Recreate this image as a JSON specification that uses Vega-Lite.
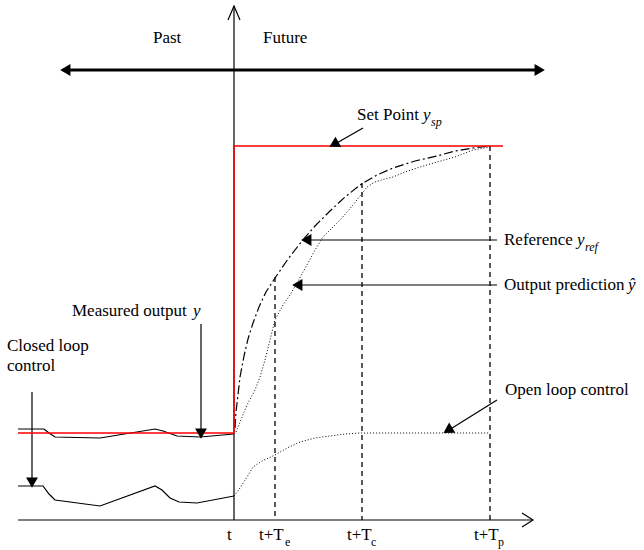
{
  "$schema": "https://vega.github.io/schema/vega-lite/v6.json",
  "width": 644,
  "height": 550,
  "autosize": "none",
  "padding": 0,
  "background": "white",
  "config": {"view": {"stroke": null}},
  "datasets": {
    "lines": [
      {"s":"vaxis","i":0,"x":234,"y":6},{"s":"vaxis","i":1,"x":234,"y":520},
      {"s":"vhead","i":0,"x":228,"y":20},{"s":"vhead","i":1,"x":234,"y":6},{"s":"vhead","i":2,"x":240,"y":20},
      {"s":"xaxis","i":0,"x":18,"y":520},{"s":"xaxis","i":1,"x":533,"y":520},
      {"s":"xhead","i":0,"x":522,"y":513},{"s":"xhead","i":1,"x":533,"y":520},{"s":"xhead","i":2,"x":522,"y":527},
      {"s":"measured","i":0,"x":18,"y":429},{"s":"measured","i":1,"x":44,"y":429},{"s":"measured","i":2,"x":49,"y":433},{"s":"measured","i":3,"x":55,"y":437},{"s":"measured","i":4,"x":100,"y":438},{"s":"measured","i":5,"x":155,"y":429},{"s":"measured","i":6,"x":163,"y":431},{"s":"measured","i":7,"x":177,"y":436},{"s":"measured","i":8,"x":200,"y":437},{"s":"measured","i":9,"x":234,"y":434},
      {"s":"control","i":0,"x":18,"y":486},{"s":"control","i":1,"x":43,"y":486},{"s":"control","i":2,"x":49,"y":494},{"s":"control","i":3,"x":55,"y":500},{"s":"control","i":4,"x":100,"y":506},{"s":"control","i":5,"x":155,"y":486},{"s":"control","i":6,"x":162,"y":490},{"s":"control","i":7,"x":170,"y":498},{"s":"control","i":8,"x":179,"y":502},{"s":"control","i":9,"x":197,"y":503},{"s":"control","i":10,"x":234,"y":496},
      {"s":"a_closed","i":0,"x":32,"y":392},{"s":"a_closed","i":1,"x":32,"y":480},
      {"s":"a_meas","i":0,"x":201,"y":324},{"s":"a_meas","i":1,"x":201,"y":431},
      {"s":"a_sp","i":0,"x":363,"y":128},{"s":"a_sp","i":1,"x":335,"y":144},
      {"s":"a_ref","i":0,"x":497,"y":240},{"s":"a_ref","i":1,"x":308,"y":240},
      {"s":"a_out","i":0,"x":497,"y":285},{"s":"a_out","i":1,"x":299,"y":285},
      {"s":"a_open","i":0,"x":497,"y":400},{"s":"a_open","i":1,"x":449,"y":430},
      {"s":"timeline","i":0,"x":68,"y":70},{"s":"timeline","i":1,"x":537,"y":70},
      {"s":"setpoint","i":0,"x":18,"y":433},{"s":"setpoint","i":1,"x":234,"y":433},{"s":"setpoint","i":2,"x":234,"y":146},{"s":"setpoint","i":3,"x":503,"y":146},
      {"s":"te","i":0,"x":275,"y":277},{"s":"te","i":1,"x":275,"y":520},
      {"s":"tc","i":0,"x":362,"y":183},{"s":"tc","i":1,"x":362,"y":520},
      {"s":"tp","i":0,"x":490,"y":146},{"s":"tp","i":1,"x":490,"y":520},
      {"s":"ref","i":0,"x":235,"y":428},{"s":"ref","i":1,"x":236,"y":412},{"s":"ref","i":2,"x":238,"y":395},{"s":"ref","i":3,"x":240,"y":377},{"s":"ref","i":4,"x":244,"y":356},{"s":"ref","i":5,"x":248,"y":339},{"s":"ref","i":6,"x":253,"y":323},{"s":"ref","i":7,"x":259,"y":307},{"s":"ref","i":8,"x":266,"y":292},{"s":"ref","i":9,"x":275,"y":278},{"s":"ref","i":10,"x":288,"y":259},{"s":"ref","i":11,"x":302,"y":241},{"s":"ref","i":12,"x":315,"y":226},{"s":"ref","i":13,"x":330,"y":211},{"s":"ref","i":14,"x":345,"y":197},{"s":"ref","i":15,"x":360,"y":185},{"s":"ref","i":16,"x":377,"y":175},{"s":"ref","i":17,"x":393,"y":168},{"s":"ref","i":18,"x":415,"y":161},{"s":"ref","i":19,"x":437,"y":156},{"s":"ref","i":20,"x":455,"y":151},{"s":"ref","i":21,"x":473,"y":148},{"s":"ref","i":22,"x":490,"y":146},
      {"s":"pred","i":0,"x":236,"y":432},{"s":"pred","i":1,"x":240,"y":422},{"s":"pred","i":2,"x":247,"y":405},{"s":"pred","i":3,"x":255,"y":390},{"s":"pred","i":4,"x":260,"y":377},{"s":"pred","i":5,"x":265,"y":360},{"s":"pred","i":6,"x":270,"y":340},{"s":"pred","i":7,"x":275,"y":320},{"s":"pred","i":8,"x":283,"y":305},{"s":"pred","i":9,"x":290,"y":295},{"s":"pred","i":10,"x":297,"y":283},{"s":"pred","i":11,"x":303,"y":272},{"s":"pred","i":12,"x":308,"y":263},{"s":"pred","i":13,"x":315,"y":250},{"s":"pred","i":14,"x":323,"y":237},{"s":"pred","i":15,"x":332,"y":228},{"s":"pred","i":16,"x":340,"y":220},{"s":"pred","i":17,"x":347,"y":212},{"s":"pred","i":18,"x":353,"y":205},{"s":"pred","i":19,"x":360,"y":196},{"s":"pred","i":20,"x":367,"y":187},{"s":"pred","i":21,"x":375,"y":182},{"s":"pred","i":22,"x":385,"y":179},{"s":"pred","i":23,"x":393,"y":177},{"s":"pred","i":24,"x":405,"y":172},{"s":"pred","i":25,"x":420,"y":167},{"s":"pred","i":26,"x":437,"y":162},{"s":"pred","i":27,"x":455,"y":157},{"s":"pred","i":28,"x":473,"y":150},{"s":"pred","i":29,"x":490,"y":147},
      {"s":"open","i":0,"x":234,"y":496},{"s":"open","i":1,"x":240,"y":488},{"s":"open","i":2,"x":247,"y":477},{"s":"open","i":3,"x":253,"y":467},{"s":"open","i":4,"x":262,"y":461},{"s":"open","i":5,"x":275,"y":455},{"s":"open","i":6,"x":287,"y":448},{"s":"open","i":7,"x":300,"y":442},{"s":"open","i":8,"x":315,"y":438},{"s":"open","i":9,"x":330,"y":436},{"s":"open","i":10,"x":345,"y":434},{"s":"open","i":11,"x":360,"y":433},{"s":"open","i":12,"x":490,"y":433}
    ],
    "heads": [
      {"x":67,"y":70,"a":270},{"x":538,"y":70,"a":90},{"x":32,"y":481,"a":180},{"x":201,"y":432,"a":180},
      {"x":335.4,"y":143.5,"a":240.6},{"x":308,"y":240,"a":270},{"x":299,"y":285,"a":270},{"x":449.3,"y":429.4,"a":238.6}
    ],
    "labels": [
      {"t":"Past","x":153,"y":38},{"t":"Future","x":263,"y":38},
      {"t":"Set Point","x":357,"y":115},{"t":"Reference","x":504,"y":240},{"t":"Output prediction","x":504,"y":285},
      {"t":"Measured output","x":72,"y":311},{"t":"Closed loop","x":7,"y":346},{"t":"control","x":7,"y":366},
      {"t":"Open loop control","x":505,"y":390},{"t":"t","x":227,"y":535},
      {"t":"t+T","x":259,"y":535},{"t":"t+T","x":347,"y":535},{"t":"t+T","x":474,"y":535}
    ],
    "italics": [
      {"t":"y","x":423,"y":115},{"t":"y","x":577,"y":240},{"t":"ŷ","x":628,"y":285},{"t":"y","x":193,"y":311}
    ],
    "subsItalic": [
      {"t":"sp","x":431,"y":122},{"t":"ref","x":585,"y":247}
    ],
    "subs": [
      {"t":"e","x":285,"y":542},{"t":"c","x":371,"y":542},{"t":"p","x":498,"y":542}
    ]
  },
  "encoding": {
    "x": {"field":"x","type":"quantitative","scale":{"domain":[0,644],"nice":false,"zero":false},"axis":null},
    "y": {"field":"y","type":"quantitative","scale":{"domain":[0,550],"nice":false,"zero":false,"reverse":true},"axis":null}
  },
  "layer": [
    {
      "data":{"name":"lines"},
      "transform":[{"filter":{"field":"s","oneOf":["vaxis","vhead","xaxis","xhead","measured","control","a_closed","a_meas","a_sp","a_ref","a_out","a_open"]}}],
      "mark":{"type":"line","color":"black","strokeWidth":1.2},
      "encoding":{"detail":{"field":"s"},"order":{"field":"i","type":"quantitative"}}
    },
    {
      "data":{"name":"lines"},
      "transform":[{"filter":{"field":"s","equal":"timeline"}}],
      "mark":{"type":"line","color":"black","strokeWidth":3},
      "encoding":{"detail":{"field":"s"},"order":{"field":"i","type":"quantitative"}}
    },
    {
      "data":{"name":"lines"},
      "transform":[{"filter":{"field":"s","oneOf":["te","tc","tp"]}}],
      "mark":{"type":"line","color":"black","strokeWidth":1.3,"strokeDash":[5,4]},
      "encoding":{"detail":{"field":"s"},"order":{"field":"i","type":"quantitative"}}
    },
    {
      "data":{"name":"lines"},
      "transform":[{"filter":{"field":"s","equal":"ref"}}],
      "mark":{"type":"line","color":"black","strokeWidth":1.2,"strokeDash":[9,3,2,3]},
      "encoding":{"detail":{"field":"s"},"order":{"field":"i","type":"quantitative"}}
    },
    {
      "data":{"name":"lines"},
      "transform":[{"filter":{"field":"s","oneOf":["pred","open"]}}],
      "mark":{"type":"line","color":"black","strokeWidth":1,"strokeDash":[1,2]},
      "encoding":{"detail":{"field":"s"},"order":{"field":"i","type":"quantitative"}}
    },
    {
      "data":{"name":"lines"},
      "transform":[{"filter":{"field":"s","equal":"setpoint"}}],
      "mark":{"type":"line","color":"#ff0000","strokeWidth":1.5},
      "encoding":{"detail":{"field":"s"},"order":{"field":"i","type":"quantitative"}}
    },
    {
      "data":{"name":"heads"},
      "mark":{"type":"point","shape":"triangle","filled":true,"color":"black","size":140,"opacity":1},
      "encoding":{"angle":{"field":"a","type":"quantitative","scale":null}}
    },
    {
      "data":{"name":"labels"},
      "mark":{"type":"text","font":"Liberation Serif","fontSize":17,"align":"left","baseline":"middle","color":"black"},
      "encoding":{"text":{"field":"t"}}
    },
    {
      "data":{"name":"italics"},
      "mark":{"type":"text","font":"Liberation Serif","fontSize":17,"fontStyle":"italic","align":"left","baseline":"middle","color":"black"},
      "encoding":{"text":{"field":"t"}}
    },
    {
      "data":{"name":"subsItalic"},
      "mark":{"type":"text","font":"Liberation Serif","fontSize":12,"fontStyle":"italic","align":"left","baseline":"middle","color":"black"},
      "encoding":{"text":{"field":"t"}}
    },
    {
      "data":{"name":"subs"},
      "mark":{"type":"text","font":"Liberation Serif","fontSize":12,"align":"left","baseline":"middle","color":"black"},
      "encoding":{"text":{"field":"t"}}
    }
  ]
}
